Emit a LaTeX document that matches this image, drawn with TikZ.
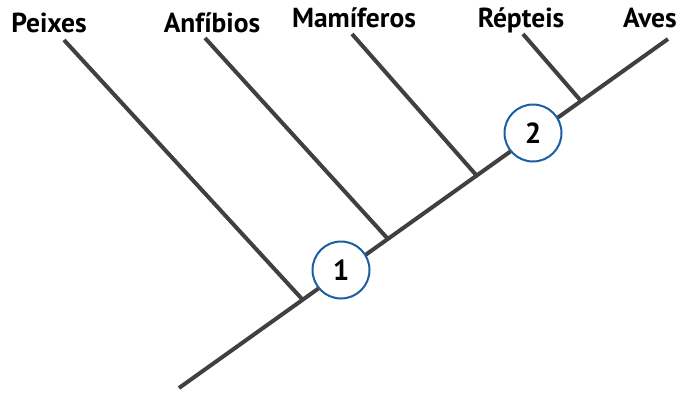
\documentclass[tikz,border=0pt]{standalone}
\usepackage{fontspec}
\setmainfont{PT Sans}
\definecolor{branch}{HTML}{404040}
\definecolor{ringblue}{HTML}{1A5FA3}
\begin{document}
\begin{tikzpicture}[x=1pt,y=-1pt,
  label/.style={font=\fontsize{27.5}{32}\selectfont\bfseries, anchor=base, inner sep=0pt},
  edge/.style={draw=branch, line width=4pt},
  nodecircle/.style={circle, draw=ringblue, line width=2pt, fill=white, minimum size=57pt, inner sep=0pt, font=\fontsize{29}{32}\selectfont\bfseries}]
\useasboundingbox (0,0) rectangle (680,392);
% labels
\node[label] (peixes) at (49,32) {Peixes};
\node[label] (anfibios) at (212,32) {Anfíbios};
\node[label] (mamiferos) at (354,27) {Mamíferos};
\node[label] (repteis) at (521,27) {Répteis};
\node[label] (aves) at (650,27) {Aves};
% line ends
\coordinate (root) at (179,388);
\coordinate (tPe) at (64,40);
\coordinate (tAn) at (205,38);
\coordinate (tMa) at (352,34);
\coordinate (tRe) at (523,34);
\coordinate (tAv) at (668,39);
\coordinate (jPe) at (302,299);
\coordinate (jAn) at (388,239);
\coordinate (jMa) at (477,176);
\coordinate (jRe) at (581,101);
% branches
\draw[edge] (root) -- (tAv);
\draw[edge] (tPe) -- (jPe);
\draw[edge] (tAn) -- (jAn);
\draw[edge] (tMa) -- (jMa);
\draw[edge] (tRe) -- (jRe);
% numbered nodes
\node[nodecircle] (n1) at (341,270) {1};
\node[nodecircle] (n2) at (533,133) {2};
\end{tikzpicture}
\end{document}
